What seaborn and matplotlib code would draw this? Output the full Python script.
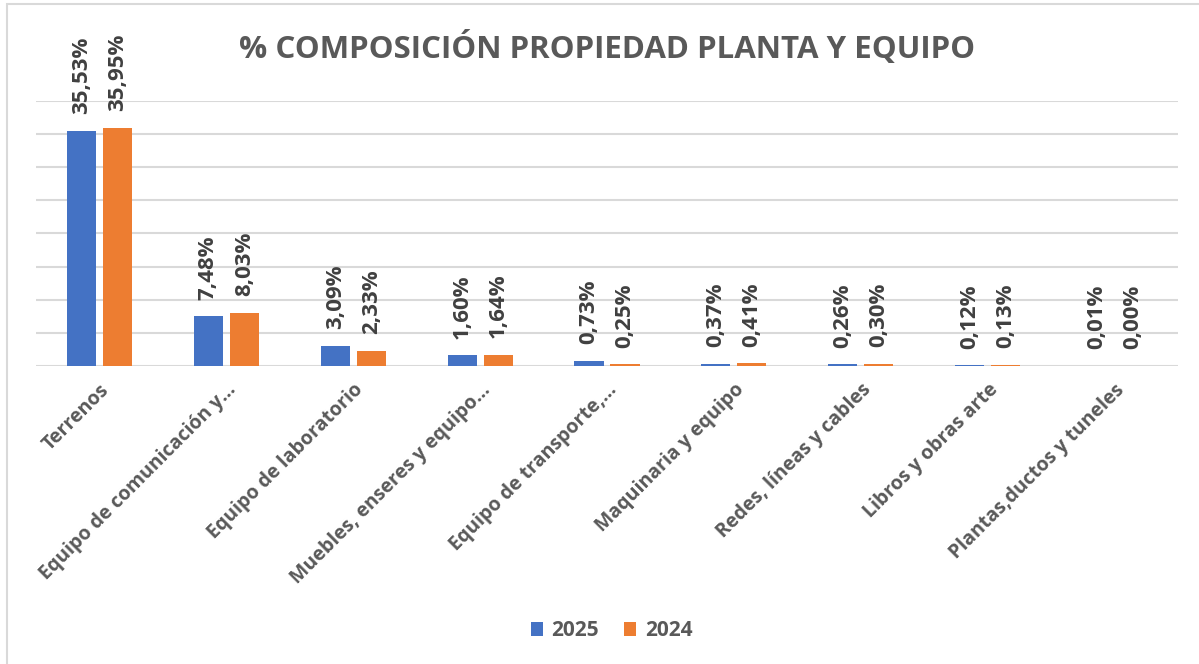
import matplotlib
matplotlib.use("Agg")
import matplotlib.pyplot as plt
import seaborn as sns
import pandas as pd
from matplotlib.patches import Rectangle, Patch

categories = ["Terrenos", "Equipo de comunicación y…", "Equipo de laboratorio",
              "Muebles, enseres y equipo…", "Equipo de transporte,…",
              "Maquinaria y equipo", "Redes, líneas y cables",
              "Libros y obras arte", "Plantas,ductos y tuneles"]
values_2025 = [35.53, 7.48, 3.09, 1.60, 0.73, 0.37, 0.26, 0.12, 0.01]
values_2024 = [35.95, 8.03, 2.33, 1.64, 0.25, 0.41, 0.30, 0.13, 0.00]
series = ["2025", "2024"]
colors = ["#4472C4", "#ED7D31"]

df = pd.DataFrame({
    "cat": categories * 2,
    "val": values_2025 + values_2024,
    "year": [series[0]] * len(categories) + [series[1]] * len(categories),
})

sns.set_theme(style="white")
plt.rcParams["font.family"] = ["Open Sans", "DejaVu Sans"]

fig = plt.figure(figsize=(11.99, 6.64), dpi=100)
ax = fig.add_axes([0.030, 0.4488, 0.9525, 0.3992])

sns.barplot(data=df, x="cat", y="val", hue="year", palette=colors,
            width=0.567, gap=0.19, ax=ax, legend=False, saturation=1,
            linewidth=0, edgecolor="none")

ax.set_ylim(0, 40)
ax.set_yticks(range(0, 41, 5))
ax.yaxis.grid(True, color="#D9D9D9", linewidth=1.5)
ax.set_axisbelow(True)
ax.tick_params(axis="y", left=False, labelleft=False)
ax.tick_params(axis="x", bottom=False, pad=4)
for s in ax.spines.values():
    s.set_visible(False)
ax.set_xlabel("")
ax.set_ylabel("")
ax.set_xlim(-0.5, len(categories) - 0.5)

for lbl in ax.get_xticklabels():
    lbl.set_rotation(45)
    lbl.set_ha("right")
    lbl.set_va("top")
    lbl.set_rotation_mode("anchor")
    lbl.set_fontsize(14)
    lbl.set_fontweight("bold")
    lbl.set_color("#595959")

for cont, vals in zip(ax.containers, [values_2025, values_2024]):
    ax.bar_label(cont, labels=[f"{v:.2f}%".replace(".", ",") for v in vals],
                 rotation=90, padding=12, fontsize=16, fontweight="bold",
                 color="#404040")

fig.text(0.506, 0.928, "% COMPOSICIÓN PROPIEDAD PLANTA Y EQUIPO", ha="center",
         va="center", fontsize=22.5, fontweight="bold", color="#595959")

handles = [Patch(facecolor=c, edgecolor="none") for c in colors]
fig.legend(handles, series, loc="center", bbox_to_anchor=(0.51, 0.05), ncol=2,
           frameon=False, handlelength=0.6, handleheight=0.6, columnspacing=1.2,
           handletextpad=0.4, prop={"weight": "bold", "size": 15},
           labelcolor="#595959")

fig.patches.append(Rectangle((7 / 1199, -0.1), 1.2, 1 - 4 / 664 + 0.1,
                             transform=fig.transFigure, fill=False,
                             edgecolor="#D9D9D9", linewidth=1.5))

fig.savefig("out.png", dpi=100)
